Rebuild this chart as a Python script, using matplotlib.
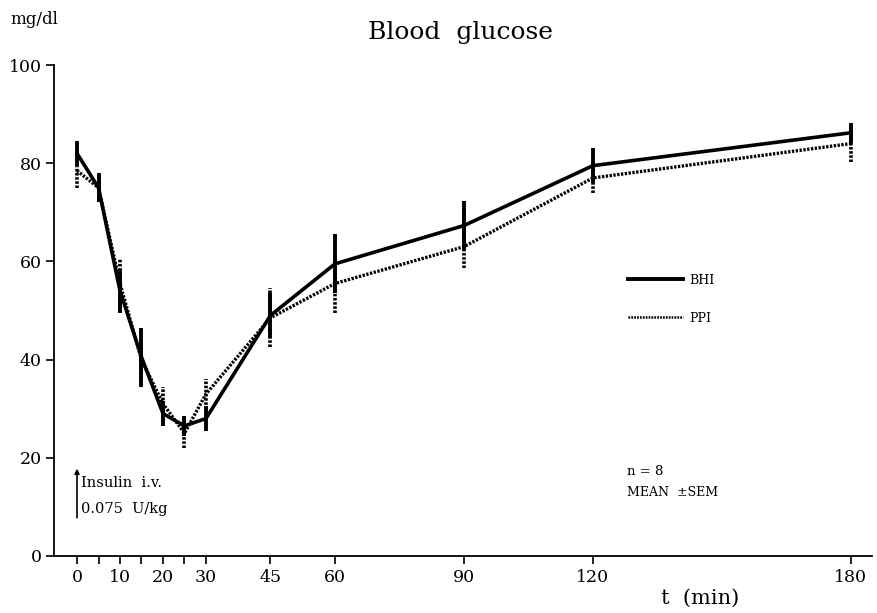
import numpy as np
import matplotlib.pyplot as plt
from matplotlib.lines import Line2D

# time points (min)
t = [0, 5, 10, 15, 20, 25, 30, 45, 60, 90, 120, 180]

# blood glucose, mg/dl (mean and SEM)
bhi_mean = [82, 75, 54, 40.5, 29, 26.5, 28, 49, 59.5, 67.3, 79.5, 86.2]
bhi_sem = [2.5, 3, 4.5, 6, 2.5, 2, 2.5, 4.5, 6, 5, 3.5, 2]
ppi_mean = [78.5, 75, 55.5, 40, 31, 25, 33, 48.5, 55.5, 63, 77, 84]
ppi_sem = [3.5, 2.5, 5, 4, 3.5, 3, 3, 6, 6, 4.3, 3, 3.8]

xticks = [0, 5, 10, 15, 20, 25, 30, 45, 60, 90, 120, 180]
xticklabels = ["0", "", "10", "", "20", "", "30", "45", "60", "90", "120", "180"]
yticks = [0, 20, 40, 60, 80, 100]

plt.rcParams['font.family'] = ['DejaVu Serif']

fig = plt.figure(figsize=(8.78, 6.13), dpi=100)
ax = fig.add_axes([54 / 878, 57 / 613, 818 / 878, 491 / 613])

dotted = (0, (0.7, 0.45))

eb1 = ax.errorbar(t, bhi_mean, yerr=bhi_sem, color='black', lw=2.6,
                  elinewidth=2.8, capsize=0, solid_capstyle='butt', zorder=3)
eb2 = ax.errorbar(t, ppi_mean, yerr=ppi_sem, color='black', lw=2.4,
                  elinewidth=2.6, capsize=0, linestyle=dotted, zorder=2)
eb2[2][0].set_linestyle(dotted)

ax.set_xlim(-5.35, 184.9)
ax.set_ylim(0, 100)
ax.spines['top'].set_visible(False)
ax.spines['right'].set_visible(False)
ax.spines['left'].set_linewidth(1.3)
ax.spines['bottom'].set_linewidth(1.3)

ax.set_xticks(xticks)
ax.set_xticklabels(xticklabels, fontsize=12.5)
ax.set_yticks(yticks)
ax.set_yticklabels([str(v) for v in yticks], fontsize=12.5)
ax.tick_params(axis='both', direction='out', length=6, width=1.2, pad=3)

# legend
handles = [Line2D([], [], color='black', lw=2.8),
           Line2D([], [], color='black', lw=1.8, linestyle=dotted)]
ax.legend(handles, ['BHI', 'PPI'], loc='upper left', frameon=False,
          bbox_to_anchor=(0.702, 0.575), borderaxespad=0, borderpad=0,
          handlelength=4.4, handletextpad=0.5, labelspacing=2.0,
          prop={'family': 'DejaVu Serif', 'size': 9})

# insulin injection marker
ax.annotate('', xy=(0, 17.8), xytext=(0, 7.8),
            arrowprops=dict(arrowstyle='-|>', color='black', lw=1.2,
                            mutation_scale=7, shrinkA=0, shrinkB=0))
ax.text(1.0, 14.9, 'Insulin  i.v.', fontsize=10.5, va='center', ha='left')
ax.text(1.0, 9.5, '0.075  U/kg', fontsize=10.5, va='center', ha='left')

ax.text(128, 17.2, 'n = 8', fontsize=9.5, va='center', ha='left')
ax.text(128, 13.0, 'MEAN  \u00b1SEM', fontsize=9, va='center', ha='left')

fig.text(461 / 878, 1 - 32 / 613, 'Blood  glucose', fontsize=18,
         ha='center', va='center')
fig.text(10 / 878, 1 - 20 / 613, 'mg/dl', fontsize=12, ha='left', va='center')
fig.text(700 / 878, 1 - 598 / 613, 't  (min)', fontsize=15, ha='center',
         va='center')

fig.savefig('out.png', dpi=100, facecolor='white')
